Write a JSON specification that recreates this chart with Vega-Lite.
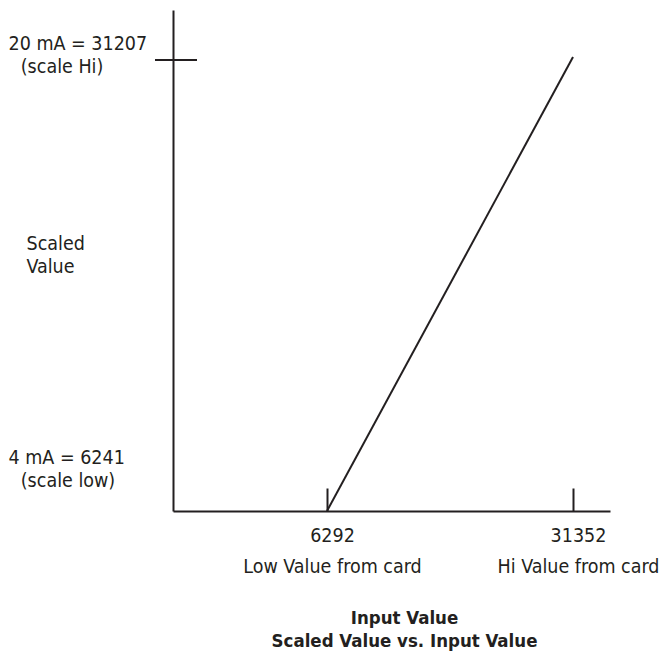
{
  "$schema": "https://vega.github.io/schema/vega-lite/v6.json",
  "width": 437,
  "height": 501,
  "autosize": {"type": "none"},
  "padding": {"left": 173, "top": 10, "right": 55, "bottom": 151},
  "background": "white",
  "config": {
    "view": {"stroke": null},
    "font": "DejaVu Sans Condensed, Liberation Sans",
    "axis": {
      "labelFont": "DejaVu Sans Condensed, Liberation Sans",
      "titleFont": "DejaVu Sans Condensed, Liberation Sans",
      "labelColor": "#231f20",
      "titleColor": "#231f20",
      "domainColor": "#231f20",
      "tickColor": "#231f20",
      "domainWidth": 2,
      "tickWidth": 2,
      "grid": false,
      "labelLimit": 400,
      "titleLimit": 600
    }
  },
  "datasets": {
    "line": [
      {"input": 6292, "scaled": 6241},
      {"input": 31352, "scaled": 31374}
    ],
    "tick": [
      {"from": -11230, "to": -6951, "scaled": 31207}
    ]
  },
  "layer": [
    {
      "data": {"name": "line"},
      "mark": {"type": "line", "color": "#231f20", "strokeWidth": 2},
      "encoding": {
        "x": {
          "field": "input",
          "type": "quantitative",
          "scale": {"domain": [-9396, 35121], "nice": false, "zero": false},
          "axis": {
            "orient": "bottom",
            "values": [6292, 31352],
            "tickSize": -23,
            "labelExpr": "datum.value == 6292 ? ['6292', 'Low Value from card'] : ['31352', 'Hi Value from card']",
            "labelFontSize": 19.5,
            "labelLineHeight": 31,
            "labelPadding": 38,
            "labelOffset": 5,
            "labelBaseline": "top",
            "labelFlush": false,
            "labelOverlap": false,
            "title": ["Input Value", "Scaled Value vs. Input Value"],
            "titleFontSize": 18.5,
            "titleFontWeight": "bold",
            "titleLineHeight": 23.5,
            "titleAlign": "center",
            "titleBaseline": "top",
            "titleX": 231,
            "titleY": 97
          }
        },
        "y": {
          "field": "scaled",
          "type": "quantitative",
          "scale": {"domain": [6241, 33975], "nice": false, "zero": false},
          "axis": {
            "orient": "left",
            "values": [6241, 31207],
            "tickSize": 0,
            "labelExpr": "datum.value == 31207 ? ['20 mA = 31207', '\u200b\u2002\u2009(scale Hi)'] : ['4 mA = 6241', '\u200b\u2002\u2009(scale low)']",
            "labelFontSize": 19.5,
            "labelLineHeight": 23,
            "labelAlign": "left",
            "labelBaseline": {"condition": {"test": "datum.value == 6241", "value": "bottom"}, "value": "middle"},
            "labelOffset": {"condition": {"test": "datum.value == 6241", "value": -44}, "value": -17},
            "labelPadding": 165,
            "labelFlush": false,
            "labelOverlap": false,
            "title": ["Scaled", "Value"],
            "titleAngle": 0,
            "titleAlign": "left",
            "titleBaseline": "middle",
            "titleFontSize": 19.5,
            "titleFontWeight": "normal",
            "titleLineHeight": 23,
            "titleX": -147,
            "titleY": 233
          }
        }
      }
    },
    {
      "data": {"name": "tick"},
      "mark": {"type": "rule", "color": "#231f20", "strokeWidth": 2},
      "encoding": {
        "x": {"field": "from", "type": "quantitative"},
        "x2": {"field": "to"},
        "y": {"field": "scaled", "type": "quantitative"}
      }
    }
  ]
}
